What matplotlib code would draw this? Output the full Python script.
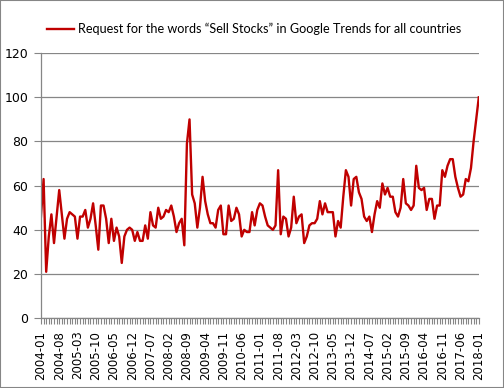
import numpy as np
import matplotlib
matplotlib.use("Agg")
import matplotlib.pyplot as plt
from matplotlib.patches import Rectangle

# monthly index values, 2004-01 .. 2018-01
values = [
    46, 63, 21, 37, 47, 34, 46, 58, 47, 36, 45, 48,   # 2004
    47, 46, 36, 46, 46, 49, 41, 45, 52, 42, 31, 51,   # 2005
    51, 45, 34, 45, 35, 41, 37, 25, 37, 40, 41, 40,   # 2006
    35, 39, 35, 35, 42, 36, 48, 42, 41, 50, 45, 46,   # 2007
    49, 48, 51, 46, 39, 43, 45, 33, 79, 90, 56, 52,   # 2008
    41, 50, 64, 53, 47, 43, 43, 41, 49, 51, 38, 38,   # 2009
    51, 44, 45, 50, 47, 37, 40, 39, 39, 48, 42, 49,   # 2010
    52, 51, 46, 42, 41, 40, 42, 67, 38, 46, 45, 37,   # 2011
    41, 55, 43, 46, 47, 34, 37, 42, 43, 43, 45, 53,   # 2012
    47, 52, 48, 48, 48, 37, 44, 41, 55, 67, 64, 51,   # 2013
    63, 64, 57, 54, 46, 44, 46, 39, 47, 53, 50, 61,   # 2014
    56, 59, 55, 55, 48, 46, 50, 63, 52, 51, 49, 51,   # 2015
    69, 59, 58, 59, 49, 54, 54, 45, 51, 51, 67, 64,   # 2016
    69, 72, 72, 64, 59, 55, 56, 63, 62, 68, 80, 90,   # 2017
    100,                                              # 2018
]
months = [f"{2004 + k // 12}-{k % 12 + 1:02d}" for k in range(len(values))]
series_label = "Request for the words \u201cSell Stocks\u201d in Google Trends for all countries"

grey = "#868686"
red = "#C00000"

fig = plt.figure(figsize=(5.04, 3.88), dpi=100)
ax = fig.add_axes([0.0813, 0.180, 0.8687, 0.683])

x = np.arange(len(values))
line, = ax.plot(x, values, color=red, lw=1.7, solid_joinstyle="round")

ax.set_xlim(0, len(values) - 1)
ax.set_ylim(0, 120)
ax.set_yticks(range(0, 121, 20))
ax.yaxis.grid(True, color=grey, lw=0.9)
ax.set_axisbelow(True)

ax.set_xticks(x[::7])
ax.set_xticklabels(months[::7], rotation=90, fontsize=8.5)
ax.set_xticks(x, minor=True)
ax.tick_params(axis="x", which="both", length=4, width=0.8, color=grey, pad=5)
ax.tick_params(axis="y", length=5, width=0.8, color=grey, labelsize=9, pad=4)

for side in ("top", "right"):
    ax.spines[side].set_visible(False)
for side in ("left", "bottom"):
    ax.spines[side].set_color(grey)
    ax.spines[side].set_linewidth(0.9)

fig.legend([line], [series_label], loc="center", bbox_to_anchor=(0.505, 0.925),
           frameon=False, handlelength=2.1, handletextpad=0.35,
           prop={"family": "Lato", "size": 9.1})

fig.add_artist(Rectangle((0, 0), 1, 1, transform=fig.transFigure, fill=False,
                         edgecolor=grey, lw=1.5))

fig.savefig("out.png", dpi=100)
